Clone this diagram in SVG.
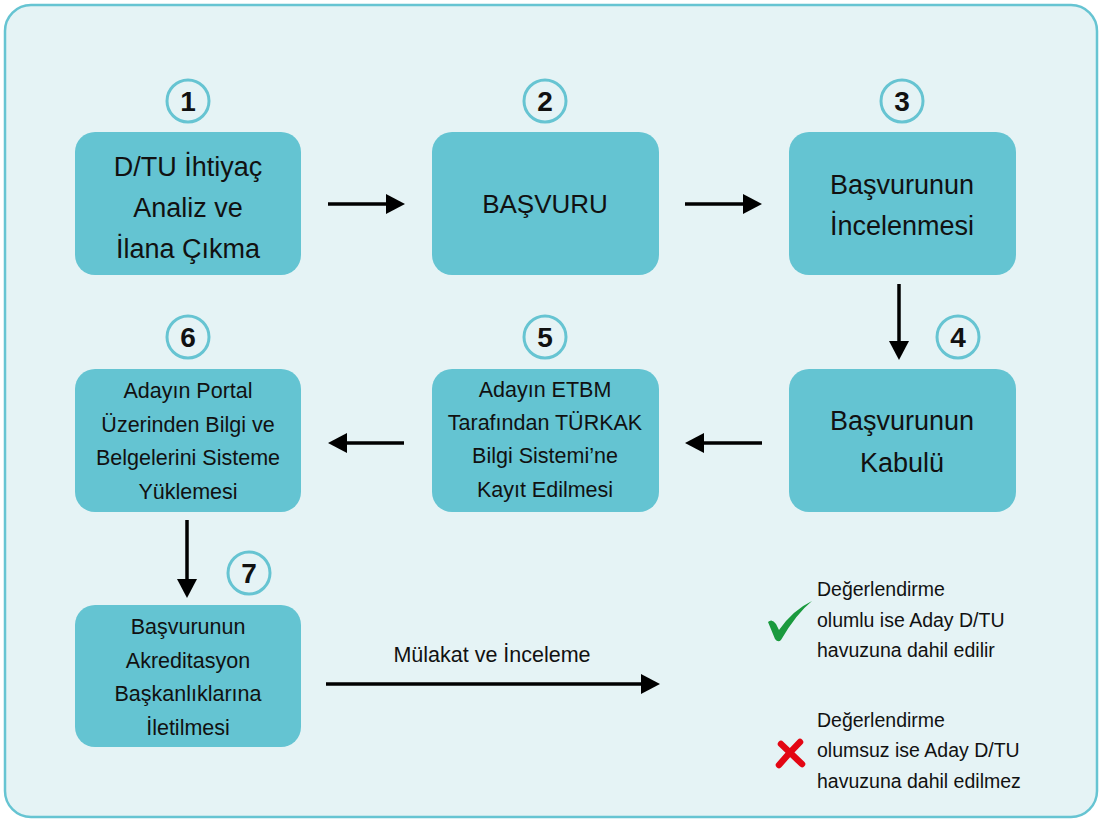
<svg xmlns="http://www.w3.org/2000/svg" width="1101" height="821" viewBox="0 0 1101 821">
<style>
.box{fill:#64c4d2;}
.num{fill:none;stroke:#66c4d2;stroke-width:3;}
.t{font-family:"Liberation Sans",Arial,sans-serif;fill:#111;text-anchor:middle;}
.big{font-size:27px;}
.sm{font-size:21.5px;}
.dg{font-size:28px;font-weight:bold;}
.lg{font-family:"Liberation Sans",Arial,sans-serif;fill:#111;font-size:19.5px;}
.c{stroke:#000;stroke-width:3.5;fill:none;marker-end:url(#ah);}
</style>
<defs>
<marker id="ah" markerUnits="userSpaceOnUse" markerWidth="20" markerHeight="22" refX="1" refY="10" orient="auto">
<path d="M0,0 L19,10 L0,20 z" fill="#000"/>
</marker>
</defs>
<rect x="5" y="5" width="1092" height="812" rx="26" fill="#e5f3f5" stroke="#66c4d2" stroke-width="2.5"/>

<g id="connectors">
<line class="c" x1="328" y1="204" x2="387" y2="204"/>
<line class="c" x1="685" y1="204" x2="744" y2="204"/>
<line class="c" x1="899" y1="284" x2="899" y2="342"/>
<line class="c" x1="762" y1="443" x2="703" y2="443"/>
<line class="c" x1="404" y1="443" x2="346" y2="443"/>
<line class="c" x1="187" y1="520" x2="187" y2="580"/>
<line class="c" x1="326" y1="684" x2="642" y2="684"/>
<text class="t" x="492" y="662" style="font-size:21.5px">Mülakat ve İnceleme</text>
</g>

<g id="node1">
<circle class="num" cx="188" cy="101" r="21"/>
<text class="t dg" x="188" y="111">1</text>
<rect class="box" x="75" y="132" width="226" height="143" rx="20"/>
<text class="t big" x="188" y="176">D/TU İhtiyaç</text>
<text class="t big" x="188" y="217">Analiz ve</text>
<text class="t big" x="188" y="258">İlana Çıkma</text>
</g>

<g id="node2">
<circle class="num" cx="545" cy="101" r="21"/>
<text class="t dg" x="545" y="111">2</text>
<rect class="box" x="432" y="132" width="227" height="143" rx="20"/>
<text class="t" x="545" y="213" style="font-size:26px">BAŞVURU</text>
</g>

<g id="node3">
<circle class="num" cx="902" cy="101" r="21"/>
<text class="t dg" x="902" y="111">3</text>
<rect class="box" x="789" y="132" width="227" height="143" rx="20"/>
<text class="t big" x="902" y="194">Başvurunun</text>
<text class="t big" x="902" y="235">İncelenmesi</text>
</g>

<g id="node4">
<circle class="num" cx="958" cy="337" r="21"/>
<text class="t dg" x="958" y="347">4</text>
<rect class="box" x="789" y="369" width="227" height="143" rx="20"/>
<text class="t big" x="902" y="430">Başvurunun</text>
<text class="t big" x="902" y="472">Kabulü</text>
</g>

<g id="node5">
<circle class="num" cx="545" cy="337" r="21"/>
<text class="t dg" x="545" y="347">5</text>
<rect class="box" x="432" y="369" width="227" height="143" rx="20"/>
<text class="t sm" x="545" y="397">Adayın ETBM</text>
<text class="t sm" x="545" y="430">Tarafından TÜRKAK</text>
<text class="t sm" x="545" y="463">Bilgi Sistemi’ne</text>
<text class="t sm" x="545" y="497">Kayıt Edilmesi</text>
</g>

<g id="node6">
<circle class="num" cx="188" cy="337" r="21"/>
<text class="t dg" x="188" y="347">6</text>
<rect class="box" x="75" y="369" width="226" height="143" rx="20"/>
<text class="t sm" x="188" y="398">Adayın Portal</text>
<text class="t sm" x="188" y="432">Üzerinden Bilgi ve</text>
<text class="t sm" x="188" y="465">Belgelerini Sisteme</text>
<text class="t sm" x="188" y="499">Yüklemesi</text>
</g>

<g id="node7">
<circle class="num" cx="249" cy="573" r="21"/>
<text class="t dg" x="249" y="583">7</text>
<rect class="box" x="75" y="605" width="226" height="142" rx="20"/>
<text class="t sm" x="188" y="634">Başvurunun</text>
<text class="t sm" x="188" y="668">Akreditasyon</text>
<text class="t sm" x="188" y="701">Başkanlıklarına</text>
<text class="t sm" x="188" y="735">İletilmesi</text>
</g>

<g id="legend-positive">
<path d="M768,622 Q772,618 776,624 L779,630 Q793,610 812,601 Q796,614 781,640 Q778,643 775,639 Z" fill="#1a9a3e"/>
<text class="lg" x="817" y="596">Değerlendirme</text>
<text class="lg" x="817" y="627">olumlu ise Aday D/TU</text>
<text class="lg" x="817" y="657">havuzuna dahil edilir</text>
</g>

<g id="legend-negative">
<path d="M781,744 L802,764 M800,742 Q790,752 779,765" stroke="#e30613" stroke-width="6.5" stroke-linecap="round" fill="none"/>
<text class="lg" x="817" y="727">Değerlendirme</text>
<text class="lg" x="817" y="757">olumsuz ise Aday D/TU</text>
<text class="lg" x="817" y="788">havuzuna dahil edilmez</text>
</g>
</svg>
